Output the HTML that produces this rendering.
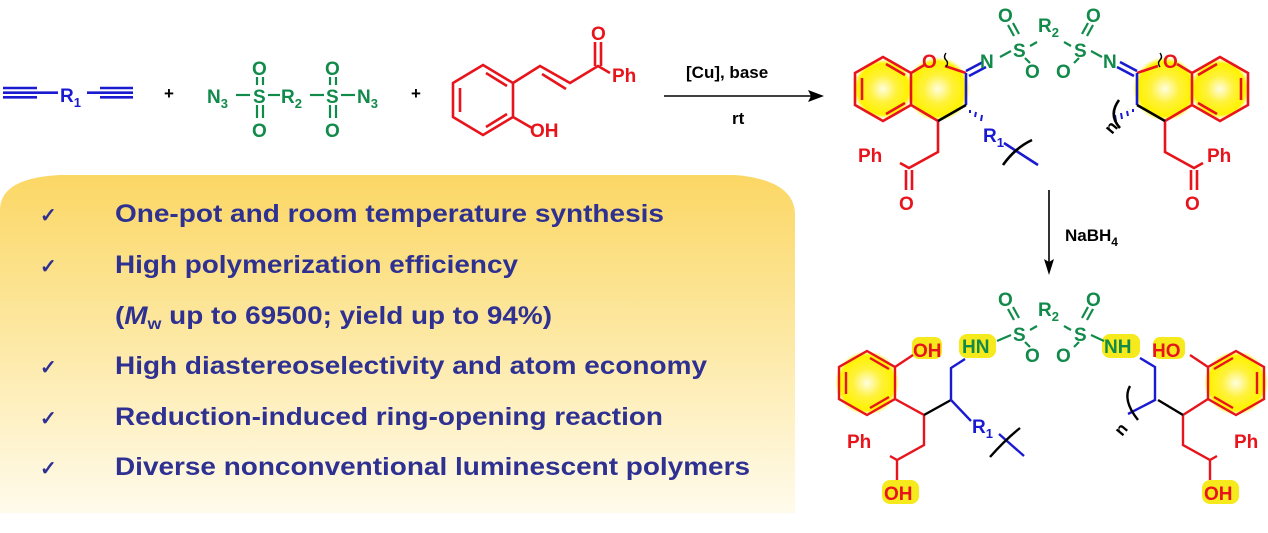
<!DOCTYPE html>
<html><head><meta charset="utf-8"><style>
html,body{margin:0;padding:0;background:#fff;width:1268px;height:533px;overflow:hidden}
svg{display:block}
text{font-family:"Liberation Sans",Arial,sans-serif;font-weight:bold}
</style></head><body>
<svg width="1268" height="533" viewBox="0 0 1268 533" xmlns="http://www.w3.org/2000/svg">
<defs>
<linearGradient id="pg" x1="0" y1="0" x2="0" y2="1">
<stop offset="0" stop-color="#fbd764"/><stop offset="0.5" stop-color="#fde9a6"/><stop offset="1" stop-color="#fffbec"/>
</linearGradient>
<radialGradient id="glow"><stop offset="0" stop-color="#fffde0"/><stop offset="0.45" stop-color="#fff23a"/><stop offset="0.85" stop-color="#fff200"/><stop offset="1" stop-color="#fff200" stop-opacity="0"/></radialGradient>
</defs>
<!-- panel -->
<path d="M0,210 Q0,178 60,175 L735,175 Q795,180 795,215 L795,513 L0,513 Z" fill="url(#pg)"/>
<g fill="#2e3192" font-size="25">
<text x="40" y="222" font-size="20" font-weight="normal">✓</text>
<text x="115" y="222" textLength="549" lengthAdjust="spacingAndGlyphs">One-pot and room temperature synthesis</text>
<text x="40" y="273" font-size="20" font-weight="normal">✓</text>
<text x="115" y="273" textLength="403" lengthAdjust="spacingAndGlyphs">High polymerization efficiency</text>
<text x="115" y="324" textLength="437" lengthAdjust="spacingAndGlyphs">(<tspan font-style="italic">M</tspan><tspan font-size="16" dy="5">w</tspan><tspan dy="-5"> up to 69500; yield up to 94%)</tspan></text>
<text x="40" y="374" font-size="20" font-weight="normal">✓</text>
<text x="115" y="374" textLength="592" lengthAdjust="spacingAndGlyphs">High diastereoselectivity and atom economy</text>
<text x="40" y="425" font-size="20" font-weight="normal">✓</text>
<text x="115" y="425" textLength="548" lengthAdjust="spacingAndGlyphs">Reduction-induced ring-opening reaction</text>
<text x="40" y="475" font-size="20" font-weight="normal">✓</text>
<text x="115" y="475" textLength="635" lengthAdjust="spacingAndGlyphs">Diverse nonconventional luminescent polymers</text>
</g>

<!-- diyne -->
<g stroke="#1a1ad0" stroke-width="2.6">
<line x1="3" y1="88" x2="37" y2="88"/><line x1="3" y1="92.7" x2="58" y2="92.7"/><line x1="3" y1="97.3" x2="37" y2="97.3"/>
<line x1="87" y1="92.7" x2="133" y2="92.7"/><line x1="100" y1="88" x2="133" y2="88"/><line x1="100" y1="97.3" x2="133" y2="97.3"/>
</g>
<text x="60" y="102" fill="#1a1ad0" font-size="19">R<tspan font-size="13" dy="5">1</tspan></text>
<text x="164" y="99" font-size="17" fill="#000">+</text>
<text x="411" y="99" font-size="17" fill="#000">+</text>
<!-- disulfonyl azide -->
<g fill="#118a4a" font-size="19">
<text x="207" y="103">N<tspan font-size="13" dy="5">3</tspan></text>
<text x="253" y="103">S</text><text x="252" y="75">O</text><text x="252" y="137">O</text>
<text x="281" y="103">R<tspan font-size="13" dy="5">2</tspan></text>
<text x="326" y="103">S</text><text x="325" y="75">O</text><text x="325" y="137">O</text>
<text x="357" y="103">N<tspan font-size="13" dy="5">3</tspan></text>
</g>
<g stroke="#118a4a" stroke-width="2.2">
<line x1="236" y1="95" x2="250" y2="95"/><line x1="268" y1="95" x2="280" y2="95"/><line x1="310" y1="95" x2="324" y2="95"/><line x1="341" y1="95" x2="355" y2="95"/>
<line x1="257" y1="77" x2="257" y2="85"/><line x1="263" y1="77" x2="263" y2="85"/><line x1="257" y1="105" x2="257" y2="118"/><line x1="263" y1="105" x2="263" y2="118"/>
<line x1="330" y1="77" x2="330" y2="85"/><line x1="336" y1="77" x2="336" y2="85"/><line x1="330" y1="105" x2="330" y2="118"/><line x1="336" y1="105" x2="336" y2="118"/>
</g>
<!-- chalcone -->
<g stroke="#e8141c" stroke-width="2.6" fill="none">
<polygon points="483,65 513,83 513,117 483,135 453,117 453,83"/>
<line x1="460" y1="88" x2="460" y2="112"/><line x1="486" y1="73" x2="507" y2="86"/><line x1="486" y1="127" x2="507" y2="114"/>
<polyline points="513,83 540,66 570,83 598,66 610,73"/>
<line x1="542" y1="74" x2="566" y2="89"/>
<line x1="595" y1="66" x2="595" y2="42"/><line x1="601" y1="66" x2="601" y2="42"/>
<line x1="513" y1="117" x2="532" y2="128"/>
</g>
<g fill="#e8141c" font-size="19"><text x="591" y="40">O</text><text x="612" y="82">Ph</text><text x="530" y="137">OH</text></g>
<!-- arrow -->
<line x1="664" y1="96" x2="812" y2="96" stroke="#000" stroke-width="1.6"/>
<polygon points="824,96 808,90 811,96 808,102" fill="#000"/>
<text x="686" y="78" font-size="17" fill="#000">[Cu], base</text>
<text x="732" y="124" font-size="17" fill="#000">rt</text>

<!-- top product glows -->
<circle cx="883" cy="89" r="30" fill="url(#glow)"/><circle cx="938" cy="89" r="32" fill="url(#glow)"/>
<circle cx="1165" cy="89" r="32" fill="url(#glow)"/><circle cx="1220" cy="89" r="30" fill="url(#glow)"/>
<g fill="none" stroke-width="2.6">
<g stroke="#e8141c">
<polygon points="883,57 911,73 911,105 883,121 855,105 855,73"/>
<line x1="862" y1="78" x2="862" y2="100"/><line x1="886" y1="114" x2="905" y2="103"/><line x1="886" y1="64" x2="905" y2="75"/>
<polyline points="926,64 911,73"/><polyline points="911,105 938,121"/>
<polyline points="938,121 938,152 909,168 900,163"/>
<line x1="906" y1="170" x2="906" y2="190"/><line x1="912" y1="170" x2="912" y2="190"/>
</g>
<polyline points="945,66 966,73" stroke="#e8141c"/>
<line x1="966" y1="73" x2="966" y2="105" stroke="#1a1ad0"/>
<line x1="966" y1="71" x2="983" y2="62" stroke="#1a1ad0"/><line x1="969" y1="76" x2="986" y2="67" stroke="#1a1ad0"/>
<line x1="938" y1="121" x2="966" y2="105" stroke="#000"/>
<g stroke="#1a1ad0" stroke-width="2"><line x1="970" y1="110" x2="970" y2="113"/><line x1="976" y1="112" x2="975" y2="117"/><line x1="982" y1="115" x2="981" y2="121"/></g>
<line x1="1004" y1="143" x2="1038" y2="165" stroke="#1a1ad0"/>
<path d="M1003,165 Q1015,148 1032,140" stroke="#000"/>
<path d="M946,67 q3,-4 0,-7 q-3,-3 0,-7" stroke="#000" stroke-width="1.4"/>
</g>
<g fill="none" stroke-width="2.6">
<g stroke="#e8141c">
<polygon points="1220,57 1248,73 1248,105 1220,121 1192,105 1192,73"/>
<line x1="1241" y1="78" x2="1241" y2="100"/><line x1="1198" y1="103" x2="1217" y2="114"/><line x1="1198" y1="75" x2="1217" y2="64"/>
<polyline points="1177,64 1192,73"/><polyline points="1192,105 1165,121"/>
<polyline points="1165,121 1165,152 1194,168 1203,163"/>
<line x1="1191" y1="170" x2="1191" y2="190"/><line x1="1197" y1="170" x2="1197" y2="190"/>
<polyline points="1158,66 1137,73"/>
</g>
<line x1="1137" y1="73" x2="1137" y2="105" stroke="#1a1ad0"/>
<line x1="1137" y1="71" x2="1120" y2="62" stroke="#1a1ad0"/><line x1="1134" y1="76" x2="1117" y2="67" stroke="#1a1ad0"/>
<line x1="1165" y1="121" x2="1137" y2="105" stroke="#000"/>
<g stroke="#1a1ad0" stroke-width="2"><line x1="1133" y1="109" x2="1133" y2="112"/><line x1="1127" y1="111" x2="1128" y2="116"/><line x1="1121" y1="113" x2="1122" y2="119"/><line x1="1115" y1="115" x2="1116" y2="121"/></g>
<path d="M1119,100 Q1108,115 1120,128" stroke="#000"/>
<path d="M1160,67 q-3,-4 0,-7 q3,-3 0,-7" stroke="#000" stroke-width="1.4"/>
</g>
<g fill="#e8141c" font-size="19">
<text x="922" y="68">O</text><text x="1163" y="68">O</text>
<text x="858" y="162">Ph</text><text x="899" y="210">O</text>
<text x="1207" y="162">Ph</text><text x="1185" y="210">O</text>
</g>
<text x="1112" y="135" font-size="17" fill="#000" transform="rotate(-50 1112 135)">n</text>
<text x="983" y="142" fill="#1a1ad0" font-size="19">R<tspan font-size="13" dy="5">1</tspan></text>
<g fill="#118a4a" font-size="19">
<text x="980" y="68">N</text><text x="1103" y="68">N</text>
<text x="1013" y="57">S</text><text x="1074" y="57">S</text>
<text x="998" y="22">O</text><text x="1025" y="78">O</text>
<text x="1056" y="78">O</text><text x="1086" y="22">O</text>
<text x="1038" y="32">R<tspan font-size="13" dy="5">2</tspan></text>
</g>
<g stroke="#118a4a" stroke-width="2.2">
<line x1="1000" y1="57" x2="1011" y2="51"/><line x1="1030" y1="46" x2="1037" y2="42"/><line x1="1064" y1="42" x2="1071" y2="46"/><line x1="1091" y1="51" x2="1102" y2="57"/>
<line x1="1008" y1="25" x2="1014" y2="36"/><line x1="1013" y1="23" x2="1019" y2="34"/>
<line x1="1025" y1="58" x2="1030" y2="63"/><line x1="1079" y1="58" x2="1074" y2="63"/>
<line x1="1093" y1="25" x2="1087" y2="36"/><line x1="1088" y1="23" x2="1082" y2="34"/>
</g>
<!-- down arrow -->
<line x1="1049" y1="190" x2="1049" y2="262" stroke="#000" stroke-width="1.6"/>
<polygon points="1049,275 1044,259 1049,262 1054,259" fill="#000"/>
<text x="1065" y="241" font-size="17" fill="#000">NaBH<tspan font-size="12" dy="5">4</tspan></text>

<!-- bottom product -->
<circle cx="867" cy="383" r="32" fill="url(#glow)"/><circle cx="1236" cy="383" r="32" fill="url(#glow)"/>
<g fill="#f6ea1c">
<rect x="959" y="334" width="37" height="24" rx="8"/><rect x="1102" y="334" width="38" height="24" rx="8"/>
<rect x="882" y="480" width="37" height="24" rx="8"/><rect x="1202" y="480" width="37" height="24" rx="8"/>
<rect x="912" y="337" width="30" height="22" rx="7"/><rect x="1153" y="337" width="32" height="22" rx="7"/>
</g>
<g fill="none" stroke-width="2.4">
<g stroke="#e8141c">
<polygon points="867,351 895,367 895,399 867,415 839,399 839,367"/>
<line x1="846" y1="372" x2="846" y2="394"/><line x1="870" y1="358" x2="889" y2="369"/><line x1="870" y1="408" x2="889" y2="397"/>
<line x1="895" y1="367" x2="913" y2="355"/>
<polyline points="895,399 924,415 924,445 897,460 890,456"/><line x1="897" y1="460" x2="897" y2="480"/>
<polygon points="1236,351 1264,367 1264,399 1236,415 1208,399 1208,367"/>
<line x1="1257" y1="372" x2="1257" y2="394"/><line x1="1214" y1="369" x2="1233" y2="358"/><line x1="1214" y1="397" x2="1233" y2="408"/>
<line x1="1208" y1="367" x2="1190" y2="355"/>
<polyline points="1208,399 1183,415 1183,445 1210,460 1217,456"/><line x1="1210" y1="460" x2="1210" y2="480"/>
</g>
<line x1="924" y1="415" x2="951" y2="400" stroke="#000"/>
<polyline points="965,359 951,368 951,400 971,421" stroke="#1a1ad0"/>
<line x1="999" y1="434" x2="1024" y2="456" stroke="#1a1ad0"/>
<path d="M990,457 Q1005,440 1020,428" stroke="#000"/>
<line x1="1183" y1="415" x2="1158" y2="400" stroke="#000"/>
<polyline points="1140,358 1155,367 1155,400 1128,414" stroke="#1a1ad0"/>
<path d="M1130,386 Q1122,400 1138,420" stroke="#000"/>
</g>
<g fill="#e8141c" font-size="19">
<text x="913" y="357">OH</text><text x="1152" y="357">HO</text>
<text x="847" y="448">Ph</text><text x="1234" y="448">Ph</text>
<text x="884" y="500">OH</text><text x="1204" y="500">OH</text>
</g>
<text x="1122" y="437" font-size="17" fill="#000" transform="rotate(-50 1122 437)">n</text>
<text x="972" y="433" fill="#1a1ad0" font-size="19">R<tspan font-size="13" dy="5">1</tspan></text>
<g fill="#118a4a" font-size="19">
<text x="962" y="353">HN</text><text x="1104" y="353">NH</text>
<text x="1013" y="341">S</text><text x="1074" y="341">S</text>
<text x="998" y="306">O</text><text x="1025" y="362">O</text>
<text x="1056" y="362">O</text><text x="1086" y="306">O</text>
<text x="1038" y="316">R<tspan font-size="13" dy="5">2</tspan></text>
</g>
<g stroke="#118a4a" stroke-width="2.2">
<line x1="997" y1="341" x2="1011" y2="335"/><line x1="1030" y1="330" x2="1037" y2="326"/><line x1="1064" y1="326" x2="1071" y2="330"/><line x1="1091" y1="335" x2="1104" y2="341"/>
<line x1="1008" y1="309" x2="1014" y2="320"/><line x1="1013" y1="307" x2="1019" y2="318"/>
<line x1="1025" y1="342" x2="1030" y2="347"/><line x1="1079" y1="342" x2="1074" y2="347"/>
<line x1="1093" y1="309" x2="1087" y2="320"/><line x1="1088" y1="307" x2="1082" y2="318"/>
</g>
</svg>
</body></html>
